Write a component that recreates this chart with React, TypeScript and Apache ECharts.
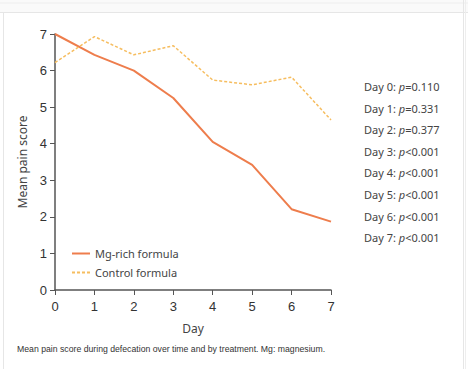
import React, { useEffect, useRef } from "react";
import * as echarts from "echarts";

const days = ["0", "1", "2", "3", "4", "5", "6", "7"];
const mgRich = [7.0, 6.43, 6.0, 5.25, 4.05, 3.42, 2.21, 1.87];
const control = [6.22, 6.93, 6.43, 6.68, 5.74, 5.61, 5.82, 4.65];
const pDays = ["Day 0", "Day 1", "Day 2", "Day 3", "Day 4", "Day 5", "Day 6", "Day 7"];
const pValues = ["=0.110", "=0.331", "=0.377", "<0.001", "<0.001", "<0.001", "<0.001", "<0.001"];

export default function App() {
  const ref = useRef<HTMLDivElement>(null);
  useEffect(() => {
    const chart = echarts.init(ref.current!, null, { renderer: "svg" });
    const pTexts = pDays.map((d, i) => ({
      type: "text",
      left: 364,
      top: 81 + i * 21.6,
      style: {
        text: `${d}: {i|p}${pValues[i]}`,
        fontSize: 11,
        fontFamily: "Noto Sans",
        fill: "#444",
        rich: { i: { fontStyle: "italic", fontSize: 11, fontFamily: "Noto Sans", fill: "#444" } },
      },
    }));
    chart.setOption({
      animation: false,
      backgroundColor: "#fff",
      grid: { left: 55, right: 137, top: 34, bottom: 79 },
      legend: {
        orient: "vertical",
        left: 66,
        top: 243,
        itemWidth: 18,
        itemHeight: 10,
        itemGap: 8,
        itemStyle: { opacity: 0 },
        textStyle: { fontSize: 11, fontFamily: "Noto Sans", color: "#444" },
        data: ["Mg-rich formula", "Control formula"],
      },
      xAxis: {
        type: "category",
        data: days,
        boundaryGap: false,
        name: "Day",
        nameLocation: "middle",
        nameGap: 32,
        nameTextStyle: { fontSize: 12, fontFamily: "Noto Sans", color: "#444" },
        axisLine: { lineStyle: { color: "#555", width: 1.5 } },
        axisTick: { alignWithLabel: true, length: 5, lineStyle: { color: "#555" } },
        axisLabel: { fontSize: 13, fontFamily: "Liberation Sans", color: "#333", margin: 10 },
        splitLine: { show: false },
      },
      yAxis: {
        type: "value",
        min: 0,
        max: 7,
        interval: 1,
        name: "Mean pain score",
        nameLocation: "middle",
        nameGap: 27,
        nameTextStyle: { fontSize: 12, fontFamily: "Noto Sans", color: "#444" },
        axisLine: { show: true, lineStyle: { color: "#555", width: 1.5 } },
        axisTick: { show: true, length: 5, lineStyle: { color: "#555" } },
        axisLabel: { fontSize: 13, fontFamily: "Liberation Sans", color: "#333", margin: 8 },
        splitLine: { show: false },
      },
      series: [
        {
          name: "Mg-rich formula",
          type: "line",
          data: mgRich,
          symbol: "none",
          itemStyle: { color: "#ee7d4c" },
          lineStyle: { color: "#ee7d4c", width: 2 },
        },
        {
          name: "Control formula",
          type: "line",
          data: control,
          symbol: "none",
          itemStyle: { color: "#f6bd5f" },
          lineStyle: { color: "#f6bd5f", width: 1.5, type: [3, 2] },
        },
      ],
      graphic: [
        { type: "rect", shape: { x: 0, y: 0, width: 468, height: 12 }, style: { fill: "#fafafa" } },
        { type: "line", shape: { x1: 0, y1: 3, x2: 468, y2: 3 }, style: { stroke: "#eee", lineWidth: 1 } },
        { type: "line", shape: { x1: 0, y1: 12.5, x2: 468, y2: 12.5 }, style: { stroke: "#e6e6e6", lineWidth: 1 } },
        { type: "line", shape: { x1: 3.5, y1: 12, x2: 3.5, y2: 369 }, style: { stroke: "#e6e6e6", lineWidth: 1 } },
        { type: "line", shape: { x1: 463.5, y1: 0, x2: 463.5, y2: 369 }, style: { stroke: "#e6e6e6", lineWidth: 1 } },
        { type: "line", shape: { x1: 465.5, y1: 0, x2: 465.5, y2: 369 }, style: { stroke: "#eee", lineWidth: 1 } },
        ...pTexts,
        {
          type: "text",
          left: 17,
          top: 344,
          style: {
            text: "Mean pain score during defecation over time and by treatment. Mg: magnesium.",
            fontSize: 8.7,
            fontFamily: "Liberation Sans",
            fill: "#333",
          },
        },
      ],
    });
    return () => chart.dispose();
  }, []);
  return <div ref={ref} style={{ width: 468, height: 369, position: "absolute", left: 0, top: 0 }} />;
}
